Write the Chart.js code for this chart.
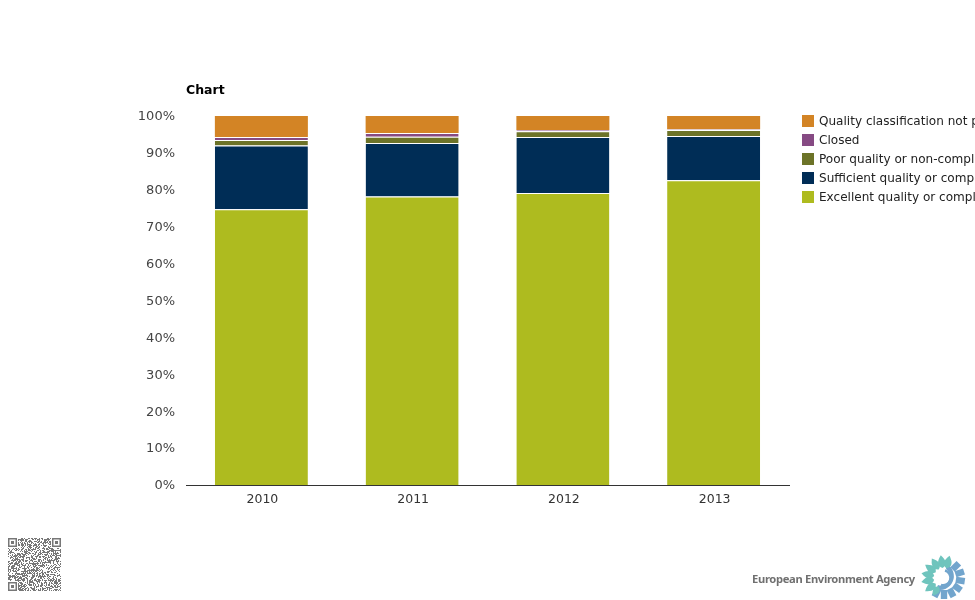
<!DOCTYPE html>
<html><head><meta charset="utf-8">
<style>
html,body{margin:0;padding:0;background:#fff;overflow:hidden}
#wrap{position:relative;width:975px;height:600px;overflow:hidden}
#c{position:absolute;left:0;top:0}
#qr{position:absolute;left:8px;top:538px;width:53px;height:53px}
#brand{position:absolute;left:752px;top:571px;font:bold 11.2px "Noto Sans","Liberation Sans",sans-serif;letter-spacing:-0.33px;color:#707070;white-space:nowrap}
#logo{position:absolute;left:920px;top:555px}
</style>
</head><body>
<div id="wrap">
<canvas id="c" width="975" height="600"></canvas>
<canvas id="qr" width="53" height="53"></canvas>
<div id="brand">European Environment Agency</div>
<svg id="logo" width="48" height="46" viewBox="-24 -23 48 46">
<g id="gear" fill="#72a5cd"></g>
<path d="M3 -14 A14 14 0 0 1 -8 11.5 L-6 7 A9 9 0 0 0 2 -9 Z" fill="#72a5cd"/>
<g id="petals" fill="#6fc4bd"></g>
<path d="M1 -7.5 A7.5 7.5 0 0 1 -3 7" fill="none" stroke="#72a5cd" stroke-width="2.5"/>
</svg>
</div>
<script src="https://cdn.jsdelivr.net/npm/chart.js@4"></script>
<script>
const categories = ["2010","2011","2012","2013"];
const excellent = [74.7,78.2,79.1,82.6];
const sufficient = [17.3,14.5,15.2,12.0];
const poor = [1.5,1.7,1.6,1.6];
const closed = [0.8,1.0,0.3,0.2];
const notClassified = [5.7,4.6,3.8,3.6];
const seriesNames = ["Excellent quality or compliant","Sufficient quality or compliant","Poor quality or non-compliant","Closed","Quality classification not possible"];
const seriesColors = ["#AEBB1F","#002D56","#6C7328","#864A83","#D38425"];
const seriesValues = [excellent,sufficient,poor,closed,notClassified];
const chartTitle = "Chart";
const FONT = '"DejaVu Sans", sans-serif';

const overlay = {
  id:'overlay',
  afterDraw(chart){
    const ctx = chart.ctx;
    ctx.save();
    ctx.textBaseline='middle';ctx.textAlign='left';
    ctx.font='bold 12.5px '+FONT;ctx.fillStyle='#000';
    ctx.fillText(chartTitle,186,90.5);
    ctx.font='12.05px '+FONT;
    const n = chart.data.datasets.length;
    chart.data.datasets.forEach((d,i)=>{
      const y = 121+(n-1-i)*19;
      ctx.fillStyle=d.backgroundColor;ctx.fillRect(802,y-6,12,12);
      ctx.fillStyle='#222';ctx.fillText(d.label,819,y+0.5);
    });
    ctx.restore();
  }
};

new Chart(document.getElementById('c'),{
  type:'bar',
  data:{labels:categories,datasets:seriesNames.map((name,i)=>({
    label:name,data:seriesValues[i],backgroundColor:seriesColors[i],
    borderColor:'#fff',borderWidth:{top:i===seriesNames.length-1?0:1,bottom:0,left:0,right:0},borderSkipped:false,
    barPercentage:1,categoryPercentage:0.617
  }))},
  options:{
    responsive:false,animation:false,
    layout:{padding:{top:116,right:186,left:0,bottom:0}},
    plugins:{legend:{display:false},title:{display:false},tooltip:{enabled:false}},
    scales:{
      x:{stacked:true,grid:{display:false,drawTicks:false},
        border:{display:true,color:'#333',width:1},
        ticks:{color:'#333',font:{family:FONT,size:12.5},padding:7,maxRotation:0,labelOffset:1},
        afterFit(s){s.height=115;}},
      y:{stacked:true,min:0,max:100,grid:{display:false,drawTicks:false},border:{display:false},
        ticks:{stepSize:10,color:'#444',font:{family:FONT,size:13},padding:11,labelOffset:1,callback:v=>v+'%'},
        afterFit(s){s.width=186;}}
    }
  },
  plugins:[overlay]
});

/* decorative QR-like footer stamp */
(function(){
  const q=document.getElementById('qr').getContext('2d');
  let s=0xACE1;const N=53,ink='#777';
  q.fillStyle=ink;
  for(let r=0;r<N;r++)for(let c=0;c<N;c++){
    s=(s>>1)^(-(s&1)&0xB400);s&=0xFFFF;
    if(s&1)q.fillRect(c,r,1,1);
  }
  function finder(x,y){
    q.fillStyle='#fff';q.fillRect(x-1,y-1,11,11);
    q.fillStyle=ink;q.fillRect(x,y,9,9);
    q.fillStyle='#fff';q.fillRect(x+1.5,y+1.5,6,6);
    q.fillStyle=ink;q.fillRect(x+3,y+3,3,3);
  }
  finder(0,0);finder(N-9,0);finder(0,N-9);
  const ns='http://www.w3.org/2000/svg';
  function ray(g,a,r0,r1,w){
    const p=document.createElementNS(ns,'path');
    p.setAttribute('d',`M0 ${-r0} Q${-w*1.9} ${-(r0+r1)*0.42} 0 ${-r1} Q${w*1.9} ${-(r0+r1)*0.42} 0 ${-r0} Z`);
    p.setAttribute('transform',`rotate(${a})`);g.appendChild(p);
  }
  const tp=document.getElementById('petals'),tg=document.getElementById('gear');
  [-125,-100,-78,-55,-32,-8,14].forEach(a=>ray(tp,a,10,23,4));
  [-148].forEach(a=>ray(tp,a,10,21,3.6));
  [45,72,99,126,153,180,207].forEach(a=>{
    const p=document.createElementNS(ns,'rect');
    p.setAttribute('x',-3.2);p.setAttribute('y',-21);p.setAttribute('width',6.4);p.setAttribute('height',9);
    p.setAttribute('transform',`rotate(${a})`);tg.appendChild(p);
  });
})();
</script>
</body></html>
